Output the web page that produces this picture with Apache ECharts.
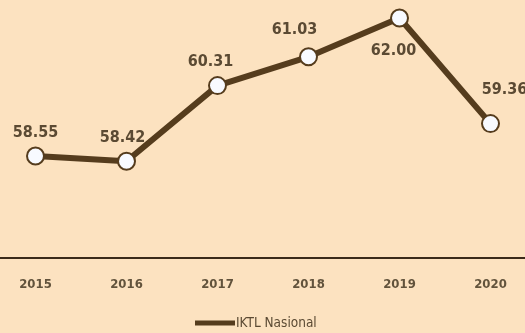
<!DOCTYPE html>
<html>
<head>
<meta charset="utf-8">
<script src="https://cdn.jsdelivr.net/npm/echarts@6/dist/echarts.min.js"></script>
<style>
  html, body { margin: 0; padding: 0; background: #FCE2C0; }
  #chart { width: 525px; height: 333px; }
</style>
</head>
<body>
<div id="chart"></div>
<script>
// National IKTL index by year
const years = ['2015', '2016', '2017', '2018', '2019', '2020'];
const iktl = [58.55, 58.42, 60.31, 61.03, 62.00, 59.36];
const seriesName = 'IKTL Nasional';

// label placement per point (position, pixel offset)
const labelPlacement = [
  { position: 'top', offset: [0, 2] },
  { position: 'top', offset: [-4, 2] },
  { position: 'top', offset: [-7, 2] },
  { position: 'top', offset: [-14, -1] },
  { position: 'bottom', offset: [-6, 7] },
  { position: 'top', offset: [14, -8] }
];

const chart = echarts.init(document.getElementById('chart'), null, { renderer: 'canvas' });

const font = "'Liberation Sans Narrow', 'DejaVu Sans Condensed', sans-serif";
const textColor = '#5B4A33';
const lineColor = '#553C1D';

chart.setOption({
  backgroundColor: '#FCE2C0',
  animation: false,
  grid: { left: -10, width: 546, top: 18, height: 240, outerBoundsMode: 'none', containLabel: false },
  xAxis: {
    type: 'category',
    data: years,
    boundaryGap: true,
    axisLine: { lineStyle: { color: '#3B2A1A', width: 2 } },
    axisTick: { show: false },
    axisLabel: {
      color: '#62533C',
      fontFamily: font,
      fontWeight: 'bold',
      fontSize: 13,
      margin: 20
    }
  },
  yAxis: {
    type: 'value',
    min: 56,
    max: 62,
    show: false,
    splitLine: { show: false }
  },
  legend: {
    bottom: -2,
    left: 190,
    data: [seriesName],
    icon: 'rect',
    itemWidth: 40,
    itemHeight: 5,
    itemStyle: { color: lineColor, borderWidth: 0 },
    textStyle: {
      color: textColor,
      fontFamily: font,
      fontSize: 13.5,
      padding: [0, 0, 0, -4]
    }
  },
  series: [{
    name: seriesName,
    type: 'line',
    data: iktl.map((v, i) => ({
      value: v,
      label: labelPlacement[i]
    })),
    symbol: 'circle',
    symbolSize: 17,
    lineStyle: { color: lineColor, width: 6 },
    itemStyle: { color: '#F8FAFF', borderColor: lineColor, borderWidth: 2 },
    label: {
      show: true,
      color: textColor,
      fontFamily: font,
      fontWeight: 'bold',
      fontSize: 16,
      distance: 8,
      formatter: p => p.value.toFixed(2)
    }
  }]
});
</script>
</body>
</html>
